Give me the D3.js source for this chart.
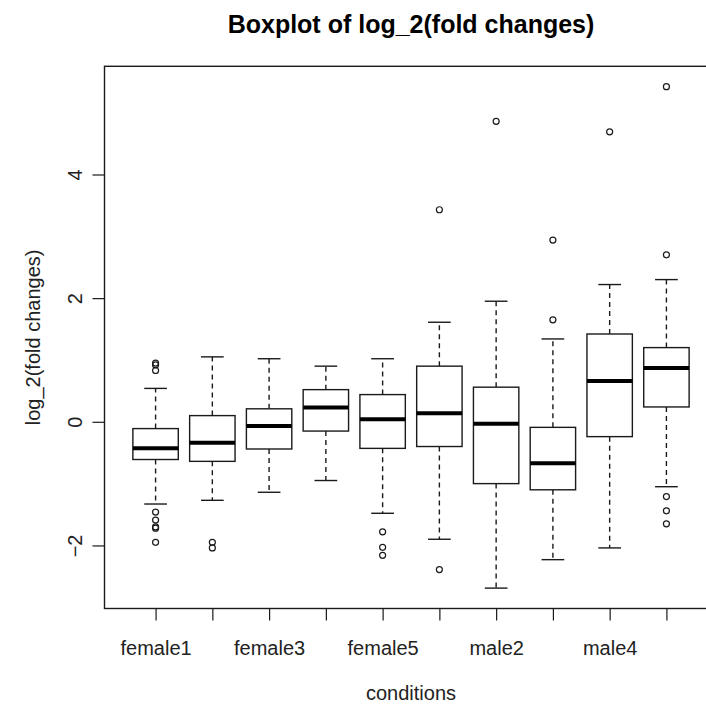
<!DOCTYPE html>
<html>
<head>
<meta charset="utf-8">
<script src="https://cdn.jsdelivr.net/npm/d3@7"></script>
<style>
  html, body { margin: 0; padding: 0; background: #fff; }
  svg { display: block; font-family: "Liberation Sans", Arial, sans-serif; }
</style>
</head>
<body>
<div id="chart"></div>
<script>
// Five-number summaries per condition (log2 fold changes)
const conditions   = ["female1", "female2", "female3", "female4", "female5",
                      "male1", "male2", "male3", "male4", "male5"];
const whiskerLow   = [-1.33, -1.27, -1.14, -0.95, -1.48, -1.90, -2.69, -2.23, -2.04, -1.05];
const quartile1    = [-0.61, -0.64, -0.44, -0.15, -0.43, -0.40, -1.00, -1.10, -0.24,  0.24];
const medians      = [-0.43, -0.34, -0.07,  0.23,  0.04,  0.14, -0.03, -0.67,  0.66,  0.87];
const quartile3    = [-0.11,  0.10,  0.21,  0.52,  0.44,  0.90,  0.56, -0.09,  1.42,  1.20];
const whiskerHigh  = [ 0.54,  1.05,  1.02,  0.90,  1.02,  1.61,  1.95,  1.34,  2.22,  2.30];
const outliers     = [
  [0.95, 0.92, 0.83, -1.46, -1.59, -1.70, -1.72, -1.95],
  [-1.95, -2.04],
  [],
  [],
  [-1.78, -2.03, -2.16],
  [3.43, -2.39],
  [4.86],
  [2.94, 1.65],
  [4.69],
  [5.42, 2.70, -1.21, -1.44, -1.65]
];
const yTicks = [-2, 0, 2, 4];

const W = 706, H = 707;
const svg = d3.select("#chart").append("svg")
  .attr("width", W).attr("height", H);

// Plot region (right edge runs past the window)
const plotLeft = 104.5, plotRight = 717.5, plotTop = 66.3, plotBottom = 608.5;

const x = d3.scaleLinear().domain([0.1, conditions.length + 0.9]).range([plotLeft, plotRight]);
const y = d3.scaleLinear().domain([-3.02, 5.75]).range([plotBottom, plotTop]);

const step = x(2) - x(1);
const boxHalf = 0.4 * step;
const stapleHalf = 0.2 * step;
const ink = "#1a1a1a";

const data = conditions.map((c, i) => ({
  name: c, pos: i + 1,
  lo: whiskerLow[i], q1: quartile1[i], med: medians[i], q3: quartile3[i], hi: whiskerHigh[i],
  out: outliers[i]
}));

// Frame
svg.append("rect")
  .attr("x", plotLeft).attr("y", plotTop)
  .attr("width", plotRight - plotLeft).attr("height", plotBottom - plotTop)
  .attr("fill", "none").attr("stroke", ink).attr("stroke-width", 1.4);

const g = svg.append("g");
const box = g.selectAll("g.box").data(data).join("g").attr("class", "box");

// Dashed whiskers
box.append("line")
  .attr("x1", d => x(d.pos)).attr("x2", d => x(d.pos))
  .attr("y1", d => y(d.q3)).attr("y2", d => y(d.hi))
  .attr("stroke", ink).attr("stroke-width", 1.4).attr("stroke-dasharray", "5,4");
box.append("line")
  .attr("x1", d => x(d.pos)).attr("x2", d => x(d.pos))
  .attr("y1", d => y(d.q1)).attr("y2", d => y(d.lo))
  .attr("stroke", ink).attr("stroke-width", 1.4).attr("stroke-dasharray", "5,4");

// Staples
box.append("line")
  .attr("x1", d => x(d.pos) - stapleHalf).attr("x2", d => x(d.pos) + stapleHalf)
  .attr("y1", d => y(d.hi)).attr("y2", d => y(d.hi))
  .attr("stroke", ink).attr("stroke-width", 1.4);
box.append("line")
  .attr("x1", d => x(d.pos) - stapleHalf).attr("x2", d => x(d.pos) + stapleHalf)
  .attr("y1", d => y(d.lo)).attr("y2", d => y(d.lo))
  .attr("stroke", ink).attr("stroke-width", 1.4);

// Boxes
box.append("rect")
  .attr("x", d => x(d.pos) - boxHalf).attr("width", 2 * boxHalf)
  .attr("y", d => y(d.q3)).attr("height", d => y(d.q1) - y(d.q3))
  .attr("fill", "#fff").attr("stroke", ink).attr("stroke-width", 1.4);

// Medians
box.append("line")
  .attr("x1", d => x(d.pos) - boxHalf).attr("x2", d => x(d.pos) + boxHalf)
  .attr("y1", d => y(d.med)).attr("y2", d => y(d.med))
  .attr("stroke", "#000").attr("stroke-width", 4);

// Outliers
box.selectAll("circle")
  .data(d => d.out.map(v => ({ pos: d.pos, v })))
  .join("circle")
  .attr("cx", d => x(d.pos)).attr("cy", d => y(d.v))
  .attr("r", 3).attr("fill", "none").attr("stroke", ink).attr("stroke-width", 1.2);

// Axes
const xAxis = d3.axisBottom(x)
  .tickValues(data.map(d => d.pos))
  .tickFormat((d, i) => i % 2 === 0 ? conditions[i] : "")
  .tickSize(12).tickPadding(26);
const xa = svg.append("g").attr("transform", `translate(0,${plotBottom})`).call(xAxis);
xa.select(".domain").remove();
xa.selectAll(".tick line").attr("stroke", ink).attr("stroke-width", 1.2);
xa.selectAll(".tick text")
  .attr("fill", "#222").attr("font-size", 20)
  .attr("font-family", "'Liberation Sans', Arial, sans-serif")
  .attr("dy", null).attr("y", 46);

const yAxis = d3.axisLeft(y).tickValues(yTicks).tickSize(12).tickFormat(d3.format("d"));
const ya = svg.append("g").attr("transform", `translate(${plotLeft},0)`).call(yAxis);
ya.select(".domain").remove();
ya.selectAll(".tick line").attr("stroke", ink).attr("stroke-width", 1.2);
ya.selectAll(".tick text")
  .attr("fill", "#222").attr("font-size", 20)
  .attr("font-family", "'Liberation Sans', Arial, sans-serif")
  .attr("x", null).attr("dy", null)
  .attr("text-anchor", "middle")
  .attr("transform", `translate(-23,0) rotate(-90)`)
  .attr("y", 0);

// Titles
svg.append("text")
  .attr("x", (plotLeft + plotRight) / 2).attr("y", 33)
  .attr("text-anchor", "middle")
  .attr("font-size", 25).attr("font-weight", "bold").attr("fill", "#000")
  .text("Boxplot of log_2(fold changes)");

svg.append("text")
  .attr("x", (plotLeft + plotRight) / 2).attr("y", 700)
  .attr("text-anchor", "middle")
  .attr("font-size", 20).attr("fill", "#222")
  .text("conditions");

svg.append("text")
  .attr("transform", `translate(40,${(plotTop + plotBottom) / 2}) rotate(-90)`)
  .attr("text-anchor", "middle")
  .attr("font-size", 20).attr("fill", "#222")
  .text("log_2(fold changes)");
</script>
</body>
</html>
